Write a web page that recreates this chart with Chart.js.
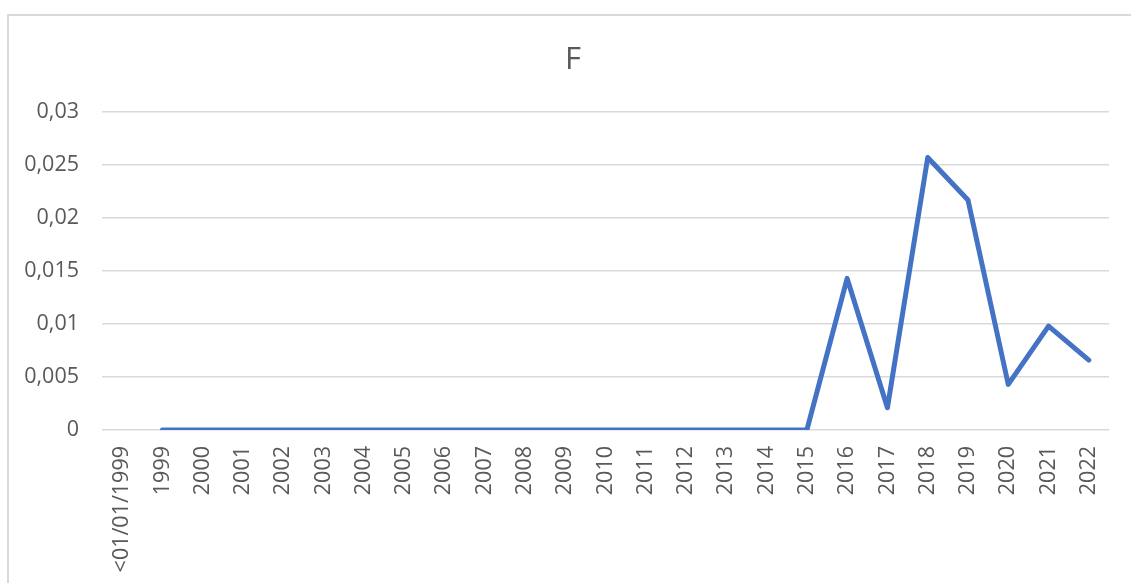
<!DOCTYPE html>
<html>
<head>
<meta charset="utf-8">
<script src="https://cdn.jsdelivr.net/npm/chart.js@4.4.0/dist/chart.umd.min.js"></script>
<style>
  html, body { margin: 0; padding: 0; background: #fff; overflow: hidden; }
  #marco { position: absolute; left: 7px; top: 14px; width: 1140px; height: 600px; border: 2px solid #d9d9d9; box-sizing: border-box; }
  #wrap { position: absolute; left: 0; top: 0; width: 1131px; height: 583px; }
</style>
</head>
<body>
<div id="marco"></div>
<div id="wrap"><canvas id="grafico" width="1131" height="583"></canvas></div>
<script>
// categorías del eje X
const categorias = ['<01/01/1999', '1999', '2000', '2001', '2002', '2003', '2004', '2005', '2006',
  '2007', '2008', '2009', '2010', '2011', '2012', '2013', '2014', '2015', '2016', '2017',
  '2018', '2019', '2020', '2021', '2022'];

// valores de la serie F (sin dato para la primera categoría)
const valoresF = [null, 0, 0, 0, 0, 0, 0, 0, 0, 0, 0, 0, 0, 0, 0, 0, 0, 0,
  0.0143, 0.0021, 0.0257, 0.0217, 0.0043, 0.0098, 0.0066];

// eje Y
const yMin = 0;
const yMax = 0.03;
const yPaso = 0.005;

const titulo = 'F';
const gris = '#595959';
const fuente = "'Open Sans', 'Noto Sans', sans-serif";

// título centrado en el marco (no en el área del gráfico)
const tituloPlugin = {
  id: 'tituloMarco',
  afterDraw(chart) {
    const c = chart.ctx;
    c.save();
    c.fillStyle = gris;
    c.font = `31px ${fuente}`;
    c.textAlign = 'center';
    c.textBaseline = 'middle';
    c.fillText(titulo, 573, 60);
    c.restore();
  }
};

const ctx = document.getElementById('grafico').getContext('2d');
const chart = new Chart(ctx, {
  type: 'line',
  data: {
    labels: categorias,
    datasets: [{
      label: titulo,
      data: valoresF,
      borderColor: '#4472C4',
      borderWidth: 5,
      borderCapStyle: 'round',
      borderJoinStyle: 'round',
      pointRadius: 0,
      tension: 0,
      spanGaps: false
    }]
  },
  options: {
    responsive: false,
    animation: false,
    layout: { padding: { left: 0, right: 19, top: 112, bottom: 0 } },
    plugins: {
      legend: { display: false },
      tooltip: { enabled: false },
      title: { display: false }
    },
    scales: {
      x: {
        offset: true,
        grid: { display: false, drawTicks: false },
        border: { display: false },
        ticks: {
          color: gris,
          font: { family: fuente, size: 21.5 },
          minRotation: 90,
          maxRotation: 90,
          autoSkip: false,
          padding: 16
        },
        afterFit: (scale) => { scale.height = 153; }
      },
      y: {
        min: yMin,
        max: yMax,
        grid: { color: '#d9d9d9', lineWidth: 1.5, drawTicks: false },
        border: { display: false },
        ticks: {
          stepSize: yPaso,
          color: gris,
          font: { family: fuente, size: 21.5 },
          padding: 23,
          callback: (v) => Number(v.toFixed(3)).toString().replace('.', ',')
        },
        afterFit: (scale) => { scale.width = 102; }
      }
    }
  },
  plugins: [tituloPlugin]
});
</script>
</body>
</html>
